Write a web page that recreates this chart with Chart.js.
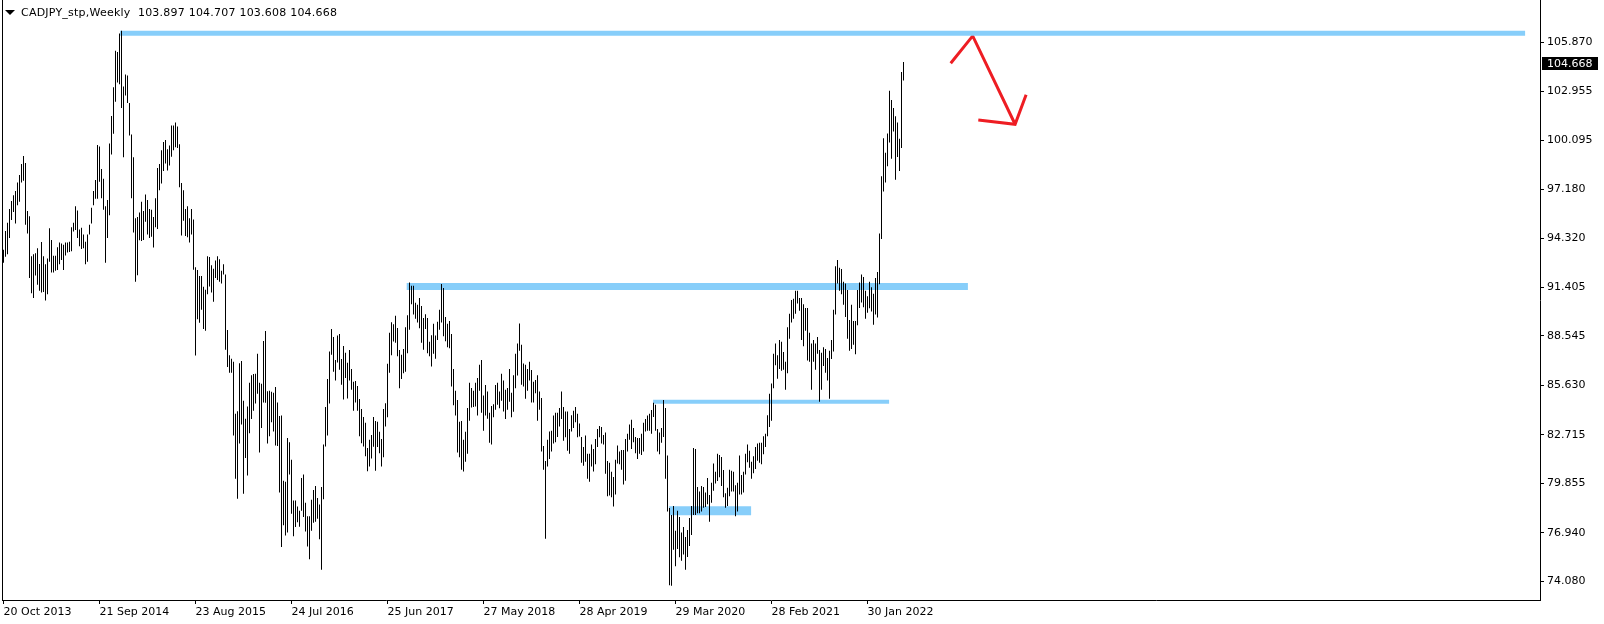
<!DOCTYPE html>
<html>
<head>
<meta charset="utf-8">
<script src="https://cdn.jsdelivr.net/npm/chart.js@4.4.1/dist/chart.umd.min.js"></script>
<style>
    html, body { margin: 0; padding: 0; background: #fff; }
    #wrap { position: relative; width: 1604px; height: 624px; }
    #title { position: absolute; left: 21px; top: 6px; font: 11px 'DejaVu Sans'; line-height: 13px; letter-spacing: 0.22px; color: #000; white-space: pre; }
    #tri { position: absolute; left: 5px; top: 10px; width: 0; height: 0;
           border-left: 5px solid transparent; border-right: 5px solid transparent; border-top: 5px solid #000; }
</style>
</head>
<body>
<div id="wrap">
    <canvas id="chart" width="1604" height="624"></canvas>
    <div id="tri"></div>
    <div id="title"></div>
</div>
<script>
// CADJPY weekly bars, index 0 = week of 20 Oct 2013
const highs = [
    93.63, 94.74, 95.22, 96.03, 96.50, 96.84, 97.10, 97.59, 98.04, 98.69,
    99.16, 98.75, 95.92, 95.60, 93.25, 93.36, 93.42, 93.72, 92.79, 94.08,
    93.25, 92.77, 93.12, 94.89, 94.21, 93.27, 93.27, 93.78, 94.06, 94.00,
    93.93, 94.06, 94.06, 94.10, 94.96, 95.22, 96.20, 95.95, 94.83, 94.92,
    94.53, 94.10, 94.53, 95.11, 96.10, 97.10, 97.74, 99.80, 99.72, 98.39,
    97.81, 96.20, 96.57, 99.89, 101.52, 103.21, 105.36, 105.29, 106.39, 106.54,
    103.26, 103.96, 103.90, 102.29, 100.43, 99.08, 95.49, 95.56, 95.82, 96.46,
    95.92, 96.89, 96.57, 96.03, 95.99, 95.56, 96.67, 98.45, 98.69, 99.50,
    99.98, 100.10, 99.55, 99.78, 100.96, 100.96, 101.14, 100.90, 99.85, 97.57,
    97.14, 96.03, 96.20, 95.49, 96.03, 95.41, 92.60, 92.43, 92.08, 92.08,
    91.44, 91.27, 93.25, 93.20, 92.71, 92.51, 92.99, 93.25, 93.07, 92.39,
    92.77, 92.17, 88.89, 87.41, 87.20, 87.03, 83.96, 84.11, 86.94, 87.07,
    84.73, 83.66, 84.39, 85.78, 86.23, 86.30, 86.32, 87.50, 85.78, 85.72,
    88.25, 88.83, 85.29, 85.31, 85.25, 85.20, 85.53, 84.62, 83.83, 83.85,
    80.01, 79.95, 82.52, 82.27, 81.24, 78.84, 78.84, 78.49, 78.24, 80.17,
    80.38, 78.71, 77.91, 77.91, 78.88, 79.46, 79.69, 78.99, 78.60, 79.63,
    82.14, 84.35, 86.00, 87.63, 88.95, 88.48, 87.13, 88.57, 88.66, 87.18,
    87.95, 87.56, 86.96, 87.71, 86.60, 85.85, 85.89, 85.59, 84.82, 84.24,
    83.77, 83.42, 81.94, 82.42, 82.70, 83.77, 83.53, 83.49, 82.89, 82.46,
    84.24, 84.58, 86.90, 88.74, 89.36, 89.23, 89.73, 89.02, 87.71, 87.43,
    87.78, 89.06, 89.77, 91.70, 91.51, 91.51, 90.50, 90.39, 90.78, 90.31,
    89.60, 89.83, 89.60, 88.20, 88.59, 89.26, 88.57, 89.38, 90.09, 91.61,
    91.38, 89.66, 89.26, 89.43, 88.66, 86.60, 85.31, 84.77, 83.49, 83.53,
    82.42, 82.89, 84.30, 85.78, 85.48, 85.31, 85.78, 86.06, 86.85, 87.13,
    85.03, 85.65, 85.27, 84.02, 84.41, 84.52, 85.65, 85.78, 85.27, 86.32,
    85.91, 85.37, 85.48, 86.60, 85.20, 86.23, 87.50, 88.10, 89.28, 88.03,
    86.92, 86.85, 86.60, 87.03, 86.53, 85.85, 85.95, 86.23, 85.27, 84.88,
    82.05, 81.17, 82.42, 82.91, 82.95, 83.85, 84.02, 84.02, 84.30, 85.27,
    84.35, 84.09, 84.09, 83.06, 83.87, 84.13, 84.35, 83.96, 83.38, 82.59,
    81.99, 82.67, 81.60, 81.60, 82.14, 81.88, 82.46, 83.06, 83.23, 83.17,
    82.70, 82.85, 81.17, 81.06, 80.53, 80.23, 81.24, 82.09, 81.73, 81.82,
    81.82, 82.46, 82.78, 83.32, 83.60, 83.12, 82.59, 82.52, 82.52, 82.78,
    83.42, 83.64, 83.85, 83.96, 84.17, 84.60, 84.49, 83.06, 82.85, 83.12,
    84.77, 84.30, 81.49, 78.39, 77.98, 78.51, 77.06, 78.24, 77.87, 76.95,
    77.27, 76.69, 77.10, 77.81, 78.51, 81.94, 81.88, 79.63, 79.37, 79.69,
    79.63, 79.31, 80.17, 79.16, 79.89, 81.02, 80.53, 81.60, 81.52, 81.41,
    80.64, 79.26, 79.59, 80.66, 80.59, 80.53, 79.74, 79.89, 81.49, 80.34,
    80.53, 81.60, 82.14, 81.77, 81.13, 81.45, 81.99, 82.20, 82.24, 82.24,
    82.63, 82.78, 83.87, 85.14, 85.74, 87.50, 88.10, 87.41, 88.31, 88.20,
    87.60, 87.03, 89.06, 89.86, 90.67, 90.74, 91.21, 91.21, 90.78, 90.78,
    90.41, 90.20, 90.20, 88.74, 88.10, 88.31, 88.10, 88.48, 87.71, 87.56,
    87.88, 87.78, 87.24, 87.67, 88.31, 90.09, 92.66, 93.03, 92.56, 92.49,
    91.74, 91.64, 91.25, 89.49, 90.39, 89.43, 89.43, 91.25, 91.70, 92.17,
    92.02, 91.21, 90.89, 91.74, 91.42, 91.04, 91.96, 92.32, 94.59, 97.96,
    100.21, 99.35, 100.49, 103.00, 102.46, 101.99, 101.50, 101.13, 100.17, 104.11,
    104.707
];
const lows = [
    92.86, 93.21, 93.36, 94.32, 95.39, 95.86, 95.17, 96.25, 96.46, 97.59,
    97.70, 95.11, 94.58, 91.96, 91.06, 90.78, 92.11, 91.57, 91.21, 91.10,
    91.14, 90.63, 91.00, 92.92, 92.28, 92.28, 92.39, 92.43, 92.77, 93.03,
    92.43, 93.29, 93.46, 93.50, 93.54, 94.70, 94.79, 94.32, 93.84, 93.67,
    93.72, 92.77, 92.92, 94.53, 95.17, 96.25, 96.63, 96.63, 97.64, 96.67,
    95.99, 92.86, 94.32, 95.67, 99.25, 100.47, 102.36, 103.49, 103.39, 101.99,
    99.08, 102.72, 102.29, 100.36, 96.67, 94.64, 91.74, 92.13, 94.19, 94.14,
    94.21, 95.28, 94.53, 94.32, 94.40, 93.76, 94.96, 94.85, 97.14, 97.53,
    98.28, 98.71, 98.30, 98.60, 99.12, 99.50, 99.68, 99.63, 97.32, 94.47,
    95.34, 94.44, 94.36, 94.06, 94.53, 92.45, 87.39, 89.53, 89.32, 90.09,
    88.95, 88.85, 91.00, 91.46, 91.10, 90.56, 91.96, 91.85, 91.74, 91.64,
    92.17, 87.73, 86.71, 86.38, 86.38, 82.67, 80.12, 78.94, 82.20, 83.32,
    79.24, 81.34, 80.31, 82.80, 83.64, 84.13, 84.56, 85.14, 81.67, 83.12,
    84.62, 84.60, 82.20, 82.63, 83.45, 82.91, 82.09, 82.05, 79.31, 76.09,
    77.38, 76.78, 76.95, 80.38, 78.06, 76.73, 77.27, 77.55, 77.29, 78.24,
    77.87, 77.01, 76.13, 75.38, 77.06, 77.53, 77.59, 77.76, 76.56, 74.76,
    78.92, 82.03, 82.67, 84.56, 87.43, 86.43, 85.91, 86.98, 86.55, 85.67,
    84.80, 86.06, 84.86, 85.91, 85.37, 84.13, 84.62, 84.13, 82.63, 82.22,
    82.03, 81.45, 80.57, 80.85, 81.32, 82.01, 80.59, 81.99, 81.62, 80.85,
    81.39, 83.21, 83.75, 86.38, 87.41, 88.21, 88.14, 87.35, 85.46, 86.00,
    86.34, 86.43, 87.52, 88.91, 90.41, 89.81, 89.56, 89.34, 89.00, 88.14,
    87.73, 88.95, 87.52, 87.35, 86.75, 87.50, 87.20, 88.31, 88.91, 89.34,
    88.53, 88.23, 87.88, 87.82, 85.57, 84.45, 83.85, 81.67, 81.39, 80.66,
    80.55, 81.13, 81.60, 83.55, 84.32, 84.35, 84.39, 83.85, 85.31, 84.02,
    82.95, 83.85, 83.66, 82.24, 82.14, 83.75, 84.19, 84.49, 84.28, 84.73,
    84.09, 83.64, 84.19, 84.67, 83.75, 84.07, 85.46, 86.21, 87.67, 85.67,
    85.57, 84.84, 85.31, 85.91, 84.62, 84.62, 85.16, 83.55, 84.19, 81.73,
    80.66, 76.58, 80.85, 81.28, 81.73, 82.20, 82.27, 82.59, 83.21, 83.64,
    82.37, 82.57, 81.77, 81.60, 82.91, 83.12, 83.45, 82.57, 82.61, 81.06,
    80.89, 81.13, 80.12, 79.95, 80.85, 80.55, 80.98, 81.99, 82.57, 82.20,
    82.14, 80.42, 79.09, 79.14, 79.03, 78.49, 79.20, 81.02, 80.98, 80.66,
    79.78, 80.01, 81.73, 82.42, 81.88, 82.27, 81.62, 81.28, 81.60, 81.52,
    81.73, 82.91, 82.95, 82.95, 82.78, 83.77, 82.95, 81.73, 81.56, 82.24,
    82.59, 80.12, 78.19, 73.84, 73.81, 75.94, 74.96, 75.98, 75.49, 75.28,
    75.66, 74.76, 75.51, 76.16, 76.80, 77.98, 77.98, 78.09, 78.09, 78.19,
    78.41, 78.45, 78.62, 77.59, 78.71, 79.41, 79.84, 79.99, 80.21, 79.69,
    79.03, 78.41, 78.51, 79.09, 79.37, 79.37, 77.91, 78.19, 79.20, 79.20,
    79.31, 80.38, 81.09, 80.77, 80.12, 80.44, 80.70, 81.19, 81.06, 80.98,
    81.56, 81.99, 82.63, 83.17, 83.55, 85.46, 86.81, 86.02, 86.60, 86.49,
    86.55, 85.37, 86.34, 88.38, 89.34, 89.56, 89.86, 90.46, 90.03, 88.31,
    87.93, 88.85, 87.09, 87.03, 85.37, 87.03, 86.55, 87.50, 84.67, 85.37,
    86.77, 86.38, 85.91, 84.84, 87.18, 87.63, 89.81, 91.64, 91.21, 91.00,
    90.39, 89.66, 88.38, 87.67, 87.78, 88.03, 87.46, 89.17, 90.20, 90.52,
    90.24, 89.56, 89.92, 90.18, 89.98, 89.21, 89.81, 89.64, 91.59, 94.27,
    97.06, 97.60, 98.56, 99.95, 98.99, 100.60, 97.75, 99.10, 98.28, 99.63,
    103.608
];
const lastOHLC = [103.897, 104.707, 103.608, 104.668];

const dateLabels = ['20 Oct 2013', '21 Sep 2014', '23 Aug 2015', '24 Jul 2016', '25 Jun 2017',
    '27 May 2018', '28 Apr 2019', '29 Mar 2020', '28 Feb 2021', '30 Jan 2022'];
const dateIdx = [0, 48, 96, 144, 192, 240, 288, 336, 384, 432];
const yTicks = [105.870, 102.955, 100.095, 97.180, 94.320, 91.405, 88.545, 85.630, 82.715, 79.855, 76.940, 74.080];

// drawn levels (price, from bar, to bar)
const levelPrice = [106.40, 91.46, 84.67, 78.24];
const levelFrom = [58.3, 201.6, 324.8, 332.8];
const levelTo = [760.8, 482.2, 442.8, 373.8];

// red arrow
const arrowX = [473.6, 484.6, 505.8];
const arrowY = [104.63, 106.24, 101.03];
const headX = [487.4, 505.8, 511.3];
const headY = [101.28, 101.03, 102.77];

document.getElementById('title').textContent =
    'CADJPY_stp,Weekly  ' + lastOHLC.map(v => v.toFixed(3)).join(' ');

Chart.defaults.font.family = "'DejaVu Sans'";
Chart.defaults.font.size = 11;
Chart.defaults.color = '#000';

const levelWidths = [5, 7, 4, 9];
const levelSets = levelPrice.map((p, k) => ({
    type: 'line',
    data: [{ x: levelFrom[k], y: p }, { x: levelTo[k], y: p }],
    borderColor: '#87cefa',
    borderWidth: levelWidths[k],
    borderCapStyle: 'butt',
    pointRadius: 0,
    fill: false
}));

const priceTag = {
    id: 'priceTag',
    afterDraw(chart) {
        const c = chart.ctx;
        const ya = chart.scales.y;
        const y = Math.round(ya.getPixelForValue(lastOHLC[3]));
        c.save();
        c.fillStyle = '#000';
        c.fillRect(chart.chartArea.left, 0, 1, chart.chartArea.bottom);
        c.fillRect(ya.left + 2, y - 6, 56, 13);
        c.fillStyle = '#fff';
        c.font = "11px 'DejaVu Sans'";
        c.textBaseline = 'middle';
        c.fillText(lastOHLC[3].toFixed(3), ya.left + 7, y + 1);
        c.restore();
    }
};

new Chart(document.getElementById('chart'), {
    type: 'bar',
    data: {
        datasets: [{
            type: 'bar',
            data: highs.map((h, i) => ({ x: i, y: [lows[i], h] })),
            backgroundColor: '#000',
            borderWidth: 0,
            barThickness: 1,
            inflateAmount: 0,
            grouped: false
        }].concat(levelSets, [{
            type: 'line',
            data: arrowX.map((x, k) => ({ x: x, y: arrowY[k] })),
            borderColor: '#ee1d23', borderWidth: 3, pointRadius: 0, fill: false, borderJoinStyle: 'miter'
        }, {
            type: 'line',
            data: headX.map((x, k) => ({ x: x, y: headY[k] })),
            borderColor: '#ee1d23', borderWidth: 3, pointRadius: 0, fill: false, borderJoinStyle: 'miter'
        }])
    },
    options: {
        responsive: false,
        devicePixelRatio: 1,
        animation: false,
        layout: { padding: { left: 2, top: 0, right: 0, bottom: 0 } },
        plugins: { legend: { display: false }, tooltip: { enabled: false } },
        scales: {
            x: {
                type: 'linear',
                offset: false,
                min: -0.75,
                max: 768.25,
                afterBuildTicks: s => { s.ticks = dateIdx.map(v => ({ value: v })); },
                ticks: {
                    callback: (v, i) => dateLabels[i],
                    align: 'start',
                    padding: 2,
                    autoSkip: false,
                    maxRotation: 0
                },
                grid: { offset: false, drawOnChartArea: false, tickLength: 4, color: '#000' },
                border: { display: true, color: '#000' },
                afterFit: s => { s.height = 24; s.paddingLeft = 0; s.paddingRight = 0; }
            },
            y: {
                position: 'right',
                min: 72.971,
                max: 108.359,
                afterBuildTicks: s => { s.ticks = yTicks.map(v => ({ value: v })); },
                ticks: {
                    callback: v => Number(v).toFixed(3),
                    padding: 3,
                    autoSkip: false
                },
                grid: { drawOnChartArea: false, tickLength: 4, color: '#000' },
                border: { display: true, color: '#000' },
                afterFit: s => { s.width = 64; s.paddingTop = 0; s.paddingBottom = 0; }
            }
        }
    },
    plugins: [priceTag]
});
</script>
</body>
</html>
